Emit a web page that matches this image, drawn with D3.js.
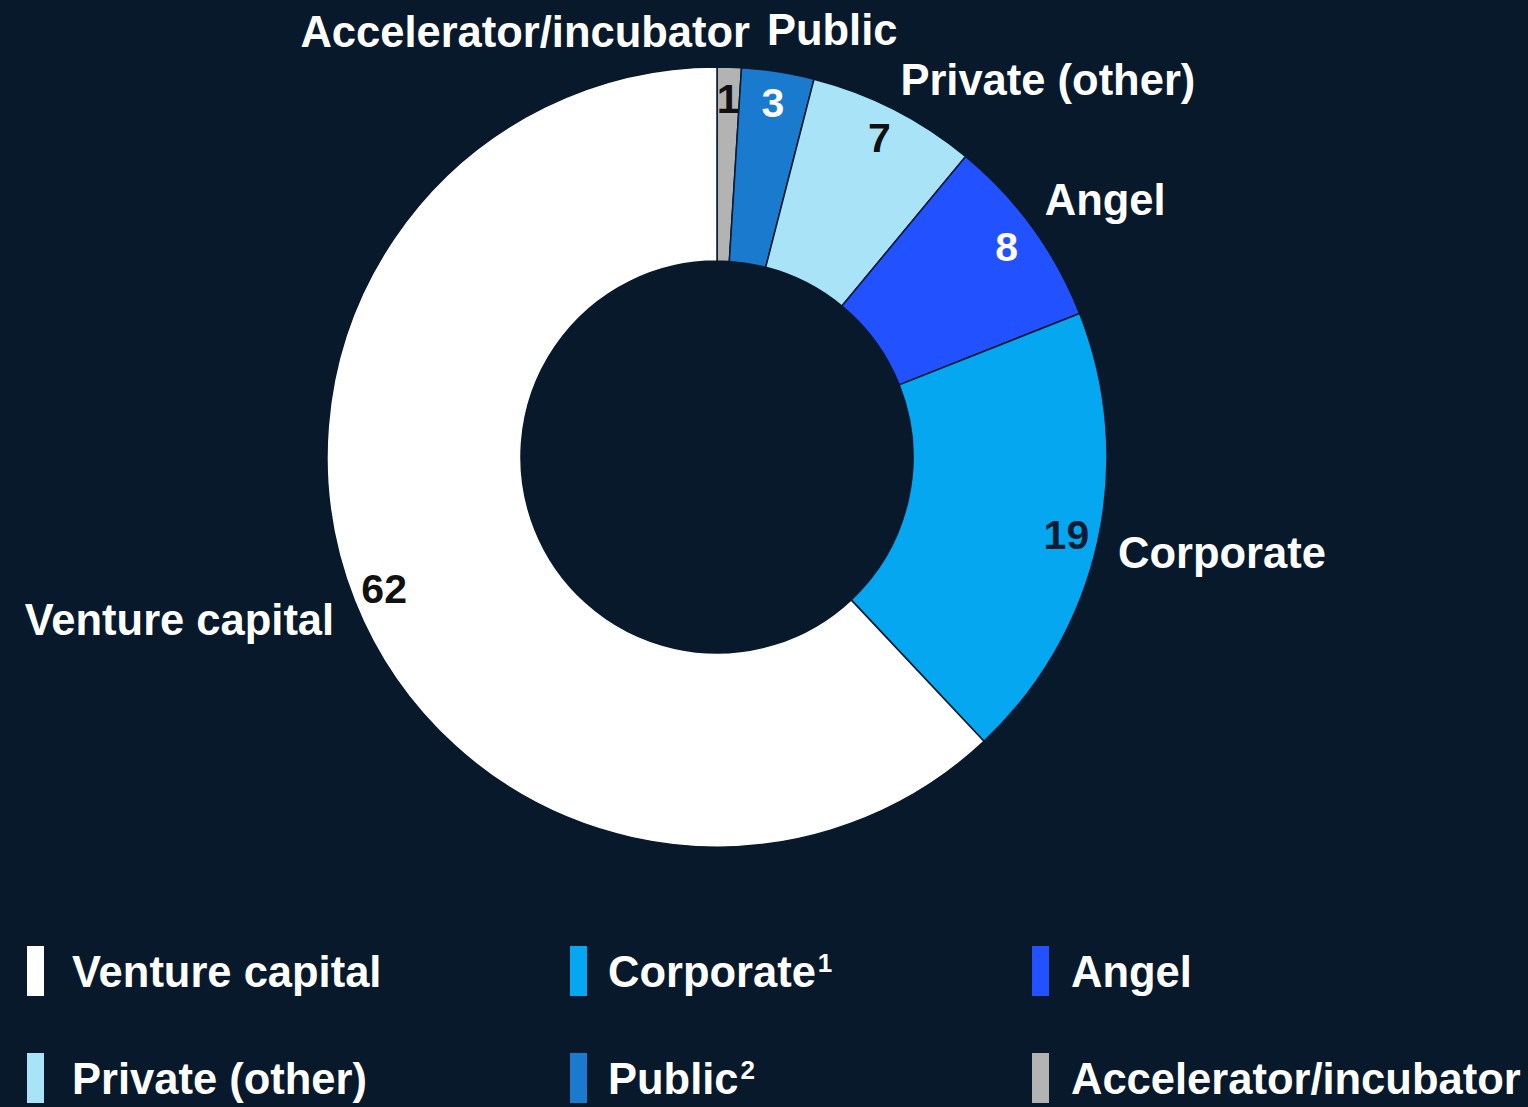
<!DOCTYPE html>
<html>
<head>
<meta charset="utf-8">
<script src="https://cdn.jsdelivr.net/npm/d3@7"></script>
<style>
  html, body { margin: 0; padding: 0; background: #07192b; }
  svg { display: block; }
  text { font-family: "Liberation Sans", Arial, sans-serif; font-weight: bold; }
</style>
</head>
<body>
<svg id="chart" width="1528" height="1107"></svg>
<script>
// Data (clockwise from 12 o'clock)
const categories = ["Accelerator/incubator", "Public", "Private (other)", "Angel", "Corporate", "Venture capital"];
const values = [1, 3, 7, 8, 19, 62];
const colors = ["#b3b3b3", "#1a7ace", "#a9e3f8", "#2251ff", "#05a8f0", "#ffffff"];
const valueLabelColors = ["#111111", "#ffffff", "#111111", "#ffffff", "#0b1d33", "#111111"];

// Legend (row by row)
const legendItems = ["Venture capital", "Corporate", "Angel", "Private (other)", "Public", "Accelerator/incubator"];
const legendNotes = ["", "1", "", "", "2", ""];

const svg = d3.select("#chart");
svg.append("rect").attr("width", 1528).attr("height", 1107).attr("fill", "#07192b");

const cx = 717, cy = 457, outerR = 390, innerR = 196;
const data = categories.map((c, i) => ({ name: c, value: values[i], color: colors[i], lc: valueLabelColors[i] }));

const pie = d3.pie().value(d => d.value).sort(null);
const arcs = pie(data);
const arc = d3.arc().innerRadius(innerR).outerRadius(outerR);
const valueArc = d3.arc().innerRadius(358).outerRadius(358);
const nameArc = d3.arc().innerRadius(415).outerRadius(415);

const g = svg.append("g").attr("transform", `translate(${cx},${cy})`);

g.selectAll("path.slice").data(arcs).join("path")
  .attr("class", "slice")
  .attr("d", arc)
  .attr("fill", d => d.data.color)
  .attr("stroke", "#07192b")
  .attr("stroke-width", 1.5);

g.selectAll("text.val").data(arcs).join("text")
  .attr("class", "val")
  .attr("transform", d => `translate(${valueArc.centroid(d)})`)
  .attr("text-anchor", "middle")
  .attr("dominant-baseline", "central")
  .attr("font-size", 41)
  .attr("fill", d => d.data.lc)
  .text(d => d.data.value);

// label nudges (layout only)
const nudges = {
  "Accelerator/incubator": { dx: 20, dy: -10, anchor: "end" },
  "Public": { dx: -15, dy: -17, anchor: "start" },
  "Private (other)": { dx: -5, dy: -7, anchor: "start" },
  "Angel": { dx: -8, dy: -13, anchor: "start" },
  "Corporate": { dx: -4, dy: 5, anchor: "start" },
  "Venture capital": { dx: 3, dy: 10, anchor: "end" }
};

g.selectAll("text.name").data(arcs).join("text")
  .attr("class", "name")
  .each(function (d) {
    const [x, y] = nameArc.centroid(d);
    const n = nudges[d.data.name];
    d3.select(this)
      .attr("x", x + n.dx)
      .attr("y", y + n.dy)
      .attr("text-anchor", n.anchor);
  })
  .attr("dominant-baseline", "central")
  .attr("font-size", 43.5)
  .attr("fill", "#ffffff")
  .text(d => d.data.name);

// Legend
const colorOf = name => colors[categories.indexOf(name)];
const colX = [27, 570, 1032];
const textX = [72, 608, 1071];
const rowY = [946, 1053];
const leg = svg.append("g");
legendItems.forEach((name, i) => {
  const col = i % 3, row = Math.floor(i / 3);
  const x = colX[col], y = rowY[row];
  leg.append("rect")
    .attr("x", x).attr("y", y)
    .attr("width", 17).attr("height", 50)
    .attr("fill", colorOf(name));
  const t = leg.append("text")
    .attr("x", textX[col])
    .attr("y", y + 41)
    .attr("font-size", 43.5)
    .attr("fill", "#ffffff")
    .text(name);
  if (legendNotes[i]) {
    t.append("tspan")
      .attr("dy", -15)
      .attr("dx", 2)
      .attr("font-size", 26)
      .text(legendNotes[i]);
  }
});
</script>
</body>
</html>
